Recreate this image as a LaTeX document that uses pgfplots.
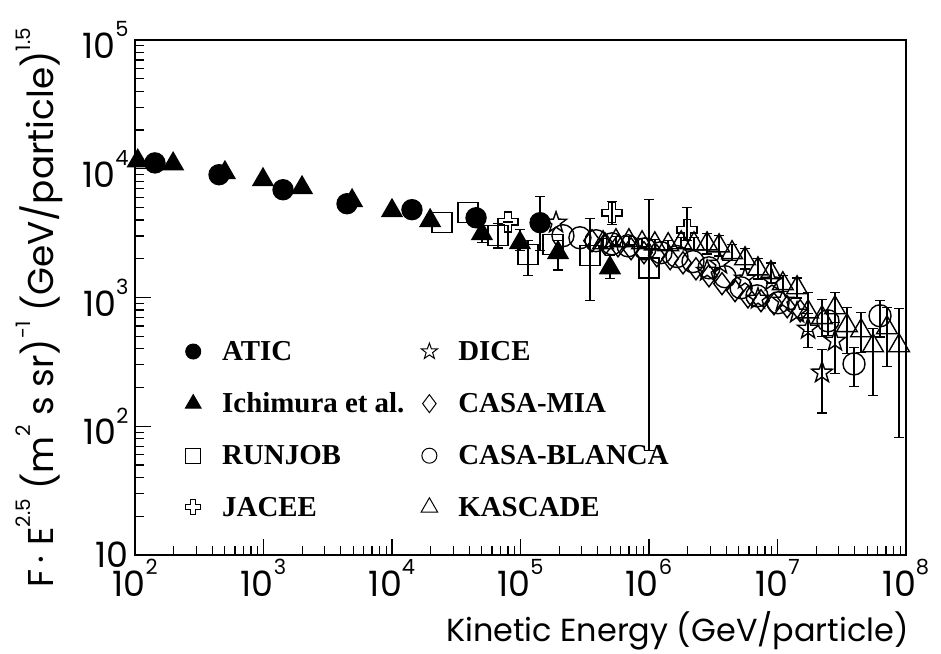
\documentclass[border=0pt]{standalone}
\usepackage{pgfplots}
\pgfplotsset{compat=1.18}
\usepackage{fontspec}
\setmainfont{Poppins}
\newfontfamily\legfont{Liberation Serif}
\newcommand\tp[1]{10\raisebox{0.62em}{\fontsize{21}{21}\selectfont #1}}
\newcommand\sps[1]{\raisebox{0.62em}{\fontsize{20}{20}\selectfont #1}}
\pgfdeclareplotmark{hcross}{%
  \pgfpathmoveto{\pgfqpoint{-0.33\pgfplotmarksize}{\pgfplotmarksize}}%
  \pgfpathlineto{\pgfqpoint{0.33\pgfplotmarksize}{\pgfplotmarksize}}%
  \pgfpathlineto{\pgfqpoint{0.33\pgfplotmarksize}{0.33\pgfplotmarksize}}%
  \pgfpathlineto{\pgfqpoint{\pgfplotmarksize}{0.33\pgfplotmarksize}}%
  \pgfpathlineto{\pgfqpoint{\pgfplotmarksize}{-0.33\pgfplotmarksize}}%
  \pgfpathlineto{\pgfqpoint{0.33\pgfplotmarksize}{-0.33\pgfplotmarksize}}%
  \pgfpathlineto{\pgfqpoint{0.33\pgfplotmarksize}{-\pgfplotmarksize}}%
  \pgfpathlineto{\pgfqpoint{-0.33\pgfplotmarksize}{-\pgfplotmarksize}}%
  \pgfpathlineto{\pgfqpoint{-0.33\pgfplotmarksize}{-0.33\pgfplotmarksize}}%
  \pgfpathlineto{\pgfqpoint{-\pgfplotmarksize}{-0.33\pgfplotmarksize}}%
  \pgfpathlineto{\pgfqpoint{-\pgfplotmarksize}{0.33\pgfplotmarksize}}%
  \pgfpathlineto{\pgfqpoint{-0.33\pgfplotmarksize}{0.33\pgfplotmarksize}}%
  \pgfpathclose\pgfusepathqstroke}
\pgfdeclareplotmark{ostar}{%
  \pgfpathmoveto{\pgfpointpolar{90}{\pgfplotmarksize}}%
  \pgfpathlineto{\pgfpointpolar{126}{0.4\pgfplotmarksize}}%
  \pgfpathlineto{\pgfpointpolar{162}{\pgfplotmarksize}}%
  \pgfpathlineto{\pgfpointpolar{198}{0.4\pgfplotmarksize}}%
  \pgfpathlineto{\pgfpointpolar{234}{\pgfplotmarksize}}%
  \pgfpathlineto{\pgfpointpolar{270}{0.4\pgfplotmarksize}}%
  \pgfpathlineto{\pgfpointpolar{306}{\pgfplotmarksize}}%
  \pgfpathlineto{\pgfpointpolar{342}{0.4\pgfplotmarksize}}%
  \pgfpathlineto{\pgfpointpolar{18}{\pgfplotmarksize}}%
  \pgfpathlineto{\pgfpointpolar{54}{0.4\pgfplotmarksize}}%
  \pgfpathclose\pgfusepathqstroke}
\pgfplotsset{limg/.style={legend image code/.code={%
  \path[draw=none, fill=none] (0bp,-8bp) (20bp,8bp);
  \draw[##1, line width=1bp, mark size=#1] plot coordinates {(10bp,0bp)};}}}
\begin{document}
\begin{tikzpicture}
\begin{axis}[
  at={(0,0)}, anchor=south west,
  scale only axis, width=771bp, height=515bp,
  xmode=log, ymode=log, xmin=1e2, xmax=1e8, ymin=10, ymax=1e5,
  xtick={1e2,1e3,1e4,1e5,1e6,1e7,1e8},
  xticklabels={\tp2,\tp3,\tp4,\tp5,\tp6,\tp7,\tp8},
  ytick={1e1,1e2,1e3,1e4,1e5},
  yticklabels={10,\tp2,\tp3,\tp4,\tp5},
  minor xtick={2e2,3e2,4e2,5e2,6e2,7e2,8e2,9e2,2e3,3e3,4e3,5e3,6e3,7e3,8e3,9e3,2e4,3e4,4e4,5e4,6e4,7e4,8e4,9e4,2e5,3e5,4e5,5e5,6e5,7e5,8e5,9e5,2e6,3e6,4e6,5e6,6e6,7e6,8e6,9e6,2e7,3e7,4e7,5e7,6e7,7e7,8e7,9e7},
  minor ytick={20,30,40,50,60,70,80,90,200,300,400,500,600,700,800,900,2e3,3e3,4e3,5e3,6e3,7e3,8e3,9e3,2e4,3e4,4e4,5e4,6e4,7e4,8e4,9e4},
  tick pos=left, tick align=inside,
  major tick length=16bp, minor tick length=9bp,
  tick style={black, line width=1.2bp},
  axis line style={line width=1.8bp},
  ticklabel style={font=\fontsize{35}{35}\selectfont},
  xticklabel style={yshift=-1bp},
  yticklabel style={xshift=-3bp},
  xlabel={Kinetic Energy (GeV/particle)},
  xlabel style={at={(axis description cs:1.008,-0.167)}, anchor=base east, font=\fontsize{32}{32}\selectfont},
  ylabel={F\,·\;E\sps{2.5} (m\sps{2} s sr)\sps{-1} (GeV/particle)\sps{1.5}},
  ylabel style={at={(axis description cs:-0.124,0.48)}, anchor=center, font=\fontsize{36}{36}\selectfont},
  clip=false,
  legend style={draw=none, fill=none, inner sep=0pt, nodes={inner sep=0pt},
    at={(axis description cs:0.0623,0.4155)}, anchor=north west,
    font=\legfont\bfseries\fontsize{29}{29}\selectfont, row sep=31bp,
    /tikz/every odd column/.append style={column sep=19bp},
    /tikz/every even column/.append style={column sep=15bp}},
  legend columns=2, legend cell align=left,
  every axis plot/.append style={black, line width=1.4bp},
  error bars/error bar style={line width=1.4bp, black},
  error bars/error mark options={rotate=90, mark size=5bp, line width=1.4bp, black},
]
% legend images, row by row
\addlegendimage{only marks, black, mark=*, limg=7.5bp}
\addlegendentry{ATIC}
\addlegendimage{only marks, black, mark=ostar, limg=8.5bp}
\addlegendentry{DICE}
\addlegendimage{only marks, black, mark=triangle*, limg=9bp}
\addlegendentry{Ichimura et al.}
\addlegendimage{only marks, black, mark=diamond, limg=9bp}
\addlegendentry{CASA-MIA}
\addlegendimage{only marks, black, mark=square, limg=7.5bp}
\addlegendentry{RUNJOB}
\addlegendimage{only marks, black, mark=o, limg=7.5bp}
\addlegendentry{CASA-BLANCA}
\addlegendimage{only marks, black, mark=hcross, limg=7.5bp}
\addlegendentry{JACEE}
\addlegendimage{only marks, black, mark=triangle, limg=9.5bp}
\addlegendentry{KASCADE}
% ATIC
\addplot[only marks, mark=*, mark size=10bp, forget plot,
  error bars/.cd, y dir=both, y explicit]
  table[x=x,y=y,y error plus=ep,y error minus=em] {
x y ep em
143 11100 0 0
451 8990 0 0
1419 6870 0 0
4467 5350 0 0
14300 4810 0 0
45100 4160 0 0
142000 3810 2250 1500
};
% Ichimura
\addplot[only marks, mark=triangle*, mark size=11.5bp, forget plot,
  error bars/.cd, y dir=both, y explicit]
  table[x=x,y=y,y error plus=ep,y error minus=em] {
x y ep em
105 11500 0 0
198 10900 0 0
501 9310 0 0
991 8220 0 0
1995 7120 0 0
4890 5640 0 0
10000 4720 0 0
19800 3950 0 0
50100 3130 500 470
99000 2660 700 350
196000 2230 530 590
497000 1700 410 300
};
% RUNJOB
\addplot[only marks, mark=square, mark size=10bp, forget plot] table {
24500 3810
39000 4550
179000 2570
};
\addplot[only marks, mark=square, mark size=10bp, forget plot,
  error bars/.cd, y dir=both, y explicit]
  table[x=x,y=y,y error plus=ep,y error minus=em] {
x y ep em
66800 3020 720 590
114000 2150 610 675
348000 2110 1980 1166
1000000 1700 4040 1635
};
% JACEE
\addplot[only marks, mark=hcross, mark size=10bp, forget plot,
  error bars/.cd, y dir=both, y explicit]
  table[x=x,y=y,y error plus=ep,y error minus=em] {
x y ep em
80000 3870 0 0
515000 4550 1000 850
1980000 3360 1620 600
};
% DICE
\addplot[only marks, mark=ostar, mark size=11bp, forget plot] table {
189000 3810
2830000 1610
3570000 1830
5590000 1400
7050000 977
9060000 1350
11000000 944
14200000 762
};
\addplot[only marks, mark=ostar, mark size=11bp, forget plot,
  error bars/.cd, y dir=both, y explicit]
  table[x=x,y=y,y error plus=ep,y error minus=em] {
x y ep em
17300000 572 176 165
22200000 261 132 134
28000000 461 176 205
};
% CASA-MIA
\addplot[only marks, mark=diamond, mark size=11bp, forget plot] table {
360000 2760
455000 2610
574000 2520
725000 2390
914000 2230
1150000 2110
1460000 2000
1840000 1860
2320000 1670
2930000 1475
3700000 1280
4670000 1130
5890000 1010
7440000 944
9390000 894
11900000 847
15000000 789
};
% CASA-BLANCA
\addplot[only marks, mark=o, mark size=11bp, forget plot] table {
214000 3020
290000 2910
387000 2760
515000 2610
687000 2520
930000 2390
1240000 2230
1650000 2080
2200000 1900
2930000 1700
3900000 1450
5200000 1190
6920000 1030
10100000 910
};
\addplot[only marks, mark=o, mark size=11bp, forget plot,
  error bars/.cd, y dir=both, y explicit]
  table[x=x,y=y,y error plus=ep,y error minus=em] {
x y ep em
24700000 659 130 154
39400000 305 102 102
62800000 721 223 226
};
% KASCADE
\addplot[only marks, mark=triangle, mark size=12bp, forget plot,
  error bars/.cd, y dir=both, y explicit]
  table[x=x,y=y,y error plus=ep,y error minus=em] {
x y ep em
439000 2660 210 200
553000 2760 220 200
698000 2760 220 200
883000 2660 210 200
1110000 2610 210 200
1410000 2570 210 200
1780000 2660 250 230
2240000 2610 300 260
2830000 2610 520 430
3510000 2520 500 420
4430000 2230 340 300
5590000 2000 390 330
7050000 1670 330 280
8890000 1560 300 260
11000000 1280 195 170
14200000 1190 230 200
17300000 774 316 230
22200000 697 264 200
28000000 832 258 576
34700000 604 228 238
44700000 552 210 180
55400000 422 150 249
71100000 582 250 292
88300000 422 396 340
};
\end{axis}
\pgfresetboundingbox
\path ([shift={(-135bp,-99bp)}]current axis.south west) rectangle ([shift={(35bp,40bp)}]current axis.north east);
\end{tikzpicture}
\end{document}
